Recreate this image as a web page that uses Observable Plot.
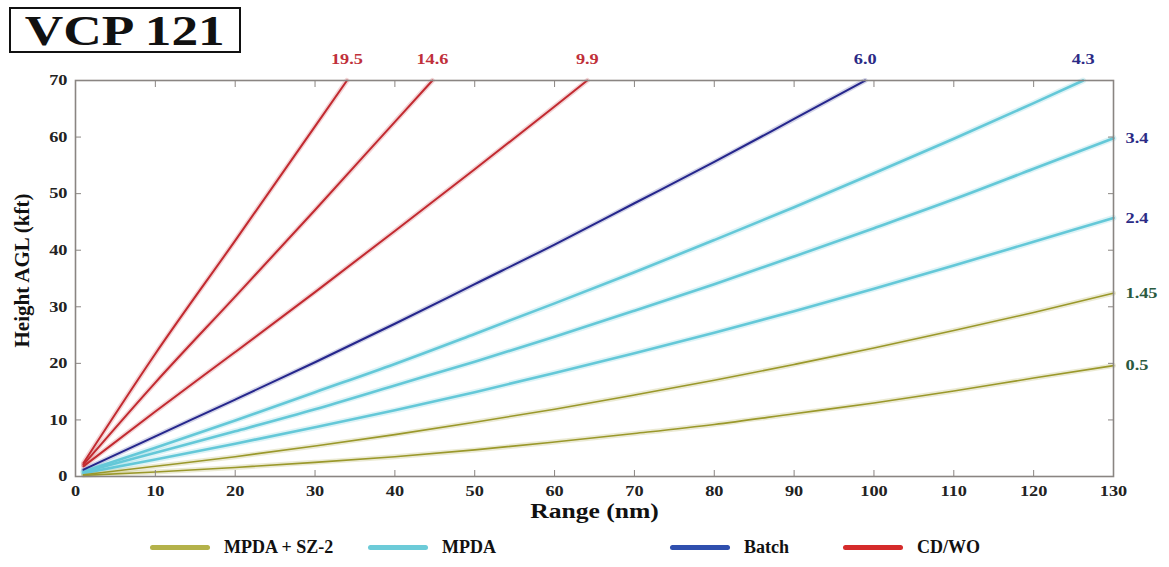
<!DOCTYPE html>
<html><head><meta charset="utf-8">
<script src="https://cdn.jsdelivr.net/npm/d3@7"></script>
<script src="https://cdn.jsdelivr.net/npm/@observablehq/plot@0.6"></script>
<style>
body{margin:0;background:#fff;font-family:"Liberation Serif","Times New Roman",serif;}
#wrap{position:relative;width:1169px;height:567px;overflow:hidden;background:#fff}
#title{position:absolute;left:9px;top:7px;width:228px;height:42px;border:2px solid #111;font-weight:bold;font-size:42px;line-height:44px;text-align:center;color:#111}
#title span{display:inline-block;transform:scaleX(1.27);transform-origin:center}
#chart{position:absolute;left:0;top:0}
.lg{position:absolute;top:537px;font-weight:bold;font-size:18px;color:#111;display:flex;align-items:center;white-space:nowrap}
.sw{display:inline-block;width:60px;height:5px;border-radius:3px;margin-right:14px}
</style></head>
<body><div id="wrap"><div id="chart"></div><div id="title"><span>VCP 121</span></div><div id="legend"></div></div>
<script>
// Scan modes (legend)
const modes = ["MPDA + SZ-2", "MPDA", "Batch", "CD/WO"];
const modeColors = ["#9a982a", "#64c8d8", "#25268c", "#c22a30"];
const legendColors = ["#b4b24a", "#6ccbd8", "#2f4fae", "#d52b2b"];

// Elevation angles and their scan mode
const angles = ["19.5", "14.6", "9.9", "6.0", "4.3", "3.4", "2.4", "1.45", "0.5"];
const angleModes = ["CD/WO", "CD/WO", "CD/WO", "Batch", "MPDA", "MPDA", "MPDA", "MPDA + SZ-2", "MPDA + SZ-2"];
const labelColors = ["#c0303a", "#c0303a", "#c0303a", "#2b2b86", "#2b2b86", "#2b2b86", "#2b2b86", "#2a5a40", "#2a5a40"];

// Beam heights (kft AGL) vs range (nm)
const r195 = [1, 10, 20, 30, 34.0];
const h195 = [2.4, 21.7, 41.7, 61.9, 70];
const r146 = [1, 10, 20, 30, 40, 44.7];
const h146 = [2.1, 16.6, 31.8, 47.1, 62.7, 70];
const r99 = [1, 10, 20, 30, 40, 50, 60, 64.1];
const h99 = [1.8, 11.5, 22.0, 32.6, 43.4, 54.3, 65.4, 70];
const r60 = [1, 10, 20, 30, 40, 50, 60, 70, 80, 90, 98.9];
const h60 = [1.2, 7.1, 13.6, 20.2, 27.0, 34.0, 41.0, 48.3, 55.6, 63.2, 70];
const r43 = [1, 10, 20, 30, 40, 50, 60, 70, 80, 90, 100, 110, 120, 126.2];
const h43 = [0.9, 5.1, 9.9, 14.9, 19.9, 25.2, 30.6, 36.1, 41.8, 47.6, 53.6, 59.7, 66.0, 70];
const r34 = [1, 10, 20, 30, 40, 50, 60, 70, 80, 90, 100, 110, 120, 130];
const h34 = [0.8, 4.2, 8.0, 11.9, 16.1, 20.3, 24.7, 29.3, 34.0, 38.9, 43.9, 49.0, 54.4, 59.8];
const r24 = [1, 10, 20, 30, 40, 50, 60, 70, 80, 90, 100, 110, 120, 130];
const h24 = [0.6, 3.0, 5.8, 8.7, 11.7, 14.9, 18.3, 21.8, 25.4, 29.2, 33.2, 37.3, 41.5, 45.7];
const r145 = [1, 10, 20, 30, 40, 50, 60, 70, 80, 90, 100, 110, 120, 130];
const h145 = [0.3, 1.8, 3.5, 5.4, 7.4, 9.6, 11.9, 14.4, 17.0, 19.8, 22.7, 25.8, 29.0, 32.4];
const r05 = [1, 10, 20, 30, 40, 50, 60, 70, 80, 90, 100, 110, 120, 130];
const h05 = [0.2, 0.8, 1.6, 2.5, 3.5, 4.7, 6.1, 7.6, 9.2, 11.1, 13.0, 15.1, 17.4, 19.6];

const rangesByAngle = [r195, r146, r99, r60, r43, r34, r24, r145, r05];
const heightsByAngle = [h195, h146, h99, h60, h43, h34, h24, h145, h05];

const xTicks = [0, 10, 20, 30, 40, 50, 60, 70, 80, 90, 100, 110, 120, 130];
const yTicks = [0, 10, 20, 30, 40, 50, 60, 70];

// build table
const rows = [];
angles.forEach((a, i) => {
  rangesByAngle[i].forEach((r, j) => rows.push({angle: a, mode: angleModes[i], r, h: heightsByAngle[i][j]}));
});
const ends = angles.map((a, i) => {
  const rr = rangesByAngle[i], hh = heightsByAngle[i];
  return {angle: a, r: rr[rr.length - 1], h: hh[hh.length - 1], color: labelColors[i], top: hh[hh.length - 1] >= 70};
});
const topLabels = ends.filter(d => d.top);
const rightLabels = ends.filter(d => !d.top);

const color = {domain: modes, range: modeColors};
const byMode = m => rows.filter(d => d.mode === m);

const chart = Plot.plot({
  width: 1169, height: 530,
  marginLeft: 75, marginRight: 56, marginTop: 80, marginBottom: 54,
  x: {domain: [0, 130]},
  y: {domain: [0, 70]},
  color,
  style: {fontFamily: "'Liberation Serif', serif", fontWeight: "bold", fontSize: "15px", color: "#222", background: "white"},
  marks: [
    // halos
    Plot.line(rows.filter(d => d.mode !== "MPDA"), {x: "r", y: "h", z: "angle", stroke: "mode", strokeWidth: 5, strokeOpacity: 0.2, curve: "monotone-x"}),
    Plot.line(byMode("MPDA"), {x: "r", y: "h", z: "angle", stroke: "mode", strokeWidth: 6, strokeOpacity: 0.22, curve: "monotone-x"}),
    Plot.line(byMode("MPDA"), {x: "r", y: "h", z: "angle", stroke: "mode", strokeWidth: 2.6, curve: "monotone-x"}),
    Plot.line(byMode("MPDA + SZ-2"), {x: "r", y: "h", z: "angle", stroke: "mode", strokeWidth: 1.6, curve: "monotone-x"}),
    Plot.line(byMode("Batch"), {x: "r", y: "h", z: "angle", stroke: "mode", strokeWidth: 2, curve: "monotone-x"}),
    Plot.line(byMode("CD/WO"), {x: "r", y: "h", z: "angle", stroke: "mode", strokeWidth: 2, curve: "monotone-x"}),
    Plot.frame({stroke: "#8a8582", strokeWidth: 1.6}),
    Plot.axisX({ticks: xTicks, tickSize: 0, tickPadding: 9, label: null, fill: "#222"}),
    Plot.axisY({ticks: yTicks, tickSize: 0, tickPadding: 8, label: null, fill: "#222"}),
    Plot.axisX({ticks: xTicks.slice(1, -1), anchor: "bottom", tickSize: -6, tickFormat: () => "", label: null, stroke: "#8a8582"}),
    Plot.axisX({ticks: xTicks.slice(1, -1), anchor: "top", tickSize: -6, tickFormat: () => "", label: null, stroke: "#8a8582"}),
    Plot.axisY({ticks: yTicks.slice(1, -1), anchor: "left", tickSize: -6, tickFormat: () => "", label: null, stroke: "#8a8582"}),
    Plot.axisY({ticks: yTicks.slice(1, -1), anchor: "right", tickSize: -6, tickFormat: () => "", label: null, stroke: "#8a8582"}),
    Plot.text(topLabels, {x: "r", y: "h", text: "angle", fill: "color", dy: -21, fontSize: 15, fontWeight: "bold"}),
    Plot.text(rightLabels, {x: "r", y: "h", text: "angle", fill: "color", dx: 12, dy: 0, textAnchor: "start", fontSize: 15, fontWeight: "bold"}),
    Plot.text(["Range (nm)"], {frameAnchor: "bottom", text: d => d, dy: 35, lineAnchor: "middle", fontSize: 21, fontWeight: "bold", fill: "#111"}),
    Plot.text(["Height AGL (kft)"], {frameAnchor: "left", text: d => d, dx: -53, dy: -8, rotate: -90, textAnchor: "middle", lineAnchor: "middle", fontSize: 21, fontWeight: "bold", fill: "#111"})
  ]
});
// widen horizontal text like the (horizontally stretched) reference
chart.querySelectorAll("text").forEach(t => {
  const tr = t.getAttribute("transform") || "";
  if (!tr.includes("rotate")) t.setAttribute("transform", tr + " scale(1.22,1)");
});
document.getElementById("chart").appendChild(chart);

// legend
const legendLeft = [150, 368, 670, 843];
const lg = document.getElementById("legend");
modes.forEach((m, i) => {
  const item = document.createElement("div");
  item.className = "lg";
  item.style.left = legendLeft[i] + "px";
  const sw = document.createElement("span");
  sw.className = "sw";
  sw.style.background = legendColors[i];
  item.appendChild(sw);
  item.appendChild(document.createTextNode(m));
  lg.appendChild(item);
});
</script>
</body></html>
